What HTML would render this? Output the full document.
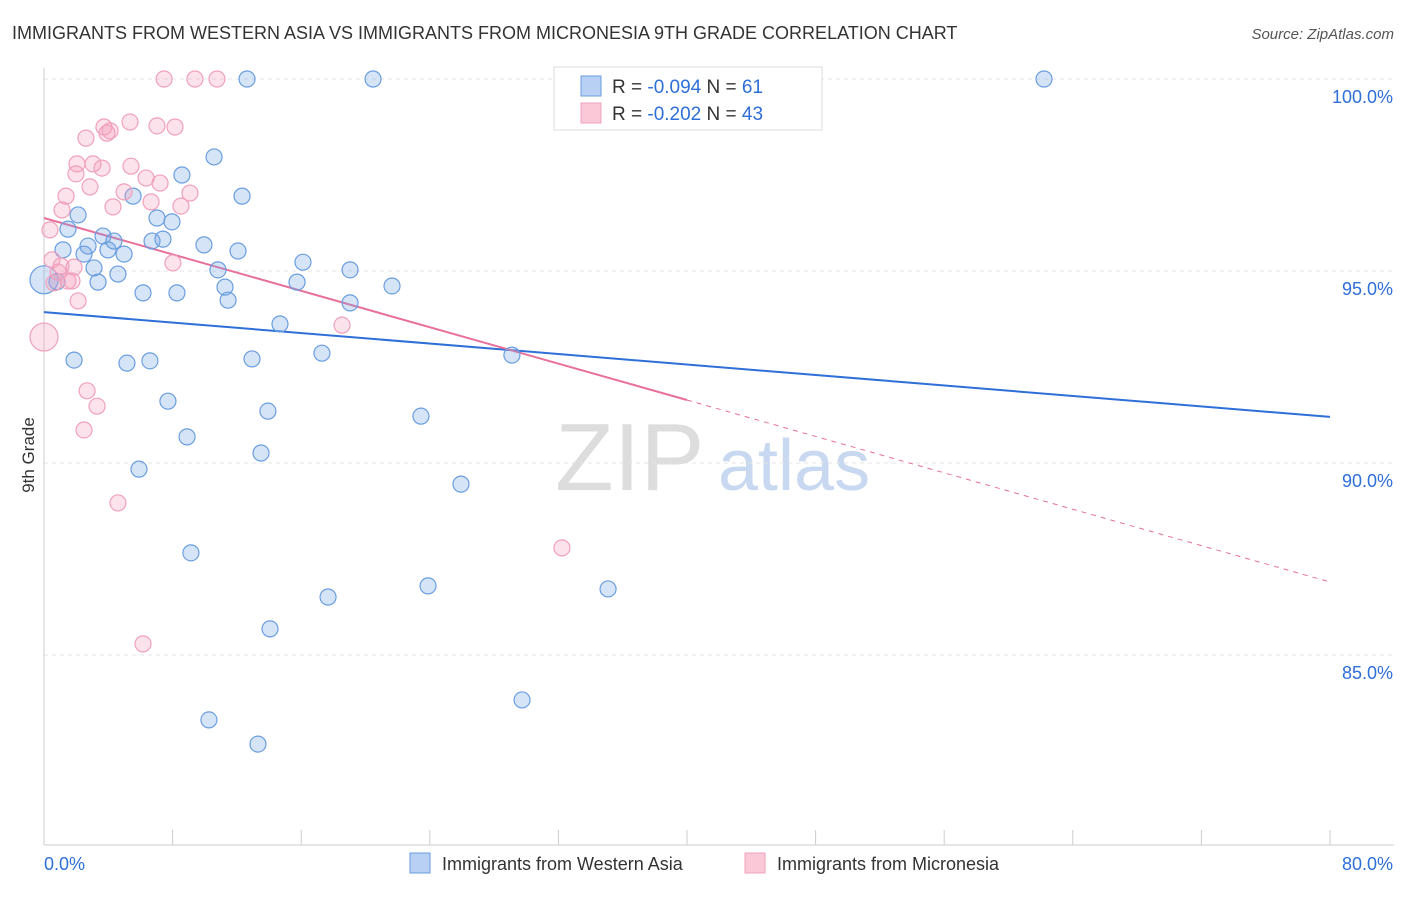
<!DOCTYPE html>
<html><head><meta charset="utf-8"><style>
body{margin:0;background:#fff;font-family:"Liberation Sans",sans-serif;}
svg text{font-family:"Liberation Sans",sans-serif;}
</style></head><body>
<svg id="chart" width="1406" height="892" xmlns="http://www.w3.org/2000/svg">
<text x="12" y="39" font-size="18" fill="#333">IMMIGRANTS FROM WESTERN ASIA VS IMMIGRANTS FROM MICRONESIA 9TH GRADE CORRELATION CHART</text>
<text x="1394" y="39" font-size="15" fill="#555" text-anchor="end" font-style="italic">Source: ZipAtlas.com</text>
<g>
<text x="555" y="490" font-size="96" fill="#ddd" font-family="Liberation Serif">ZIP</text>
<text x="718" y="490" font-size="72" fill="#c8d8f0">atlas</text>
</g>
<g id="grid"></g>
<g id="axes"></g>
<g id="lines"></g>
<g id="blue"></g>
<g id="pink"></g>
<text transform="translate(34,455) rotate(-90)" font-size="17" fill="#333" text-anchor="middle">9th Grade</text>
<g>
<rect x="554" y="67" width="268" height="63" fill="#fff" stroke="#ddd"/>
<rect x="581" y="76" width="20" height="20" fill="#b8d0f4" stroke="#6a9ee0"/>
<rect x="581" y="103" width="20" height="20" fill="#fbc8d8" stroke="#f0a0bc"/>
<text x="612" y="93" font-size="19" fill="#333">R = <tspan fill="#2e6fd8">-0.094</tspan>   N = <tspan fill="#2e6fd8"> 61</tspan></text>
<text x="612" y="120" font-size="19" fill="#333">R = <tspan fill="#2e6fd8">-0.202</tspan>   N = <tspan fill="#2e6fd8">43</tspan></text>
</g>
<g>
<rect x="410" y="853" width="20" height="20" fill="#b8d0f4" stroke="#6a9ee0"/>
<text x="442" y="870" font-size="18" fill="#333">Immigrants from Western Asia</text>
<rect x="745" y="853" width="20" height="20" fill="#fbc8d8" stroke="#f0a0bc"/>
<text x="777" y="870" font-size="18" fill="#333">Immigrants from Micronesia</text>
</g>
</svg>
<script>
const blueX=[0,0.81,1.18,1.49,2.12,1.87,2.49,2.74,3.11,3.36,3.67,3.98,4.35,4.60,4.98,5.16,5.54,5.91,6.16,6.59,6.72,7.03,7.40,7.71,7.96,8.27,8.58,8.90,9.14,9.95,10.26,10.58,10.82,11.26,11.45,12.07,12.32,12.63,12.94,13.31,13.50,13.93,14.06,14.68,15.74,16.11,17.29,17.67,19.04,19.04,20.47,21.65,23.45,23.89,25.94,29.11,29.74,35.09,44.04,62.21];
const blueY=[94.77,94.72,95.55,96.09,96.46,92.68,95.44,95.65,95.08,94.71,95.91,95.55,95.78,94.92,95.44,92.60,96.95,89.84,94.43,92.66,95.78,96.38,95.83,91.61,96.28,94.43,97.50,90.68,87.66,95.68,83.31,97.97,95.03,94.58,94.24,95.52,96.95,100,92.71,82.68,90.26,91.35,85.68,93.62,94.71,95.23,92.86,86.51,95.03,94.17,100,94.61,91.22,86.80,89.45,92.81,83.83,86.72,100,100];
const pinkX=[0,0.37,0.50,0.87,1.12,1.37,1.74,1.87,2.12,2.49,2.68,2.05,1.99,2.61,2.86,3.05,3.30,3.61,3.73,3.92,4.11,4.29,4.60,4.98,5.35,5.41,6.16,6.35,6.66,7.03,7.22,7.47,8.02,8.15,8.52,9.08,9.39,10.76,18.54,32.22,0.62,1.06,1.49];
const pinkY=[93.28,96.07,95.29,94.97,96.59,96.95,94.74,95.10,94.22,90.86,91.88,97.79,97.53,98.46,97.19,97.79,91.48,97.68,98.75,98.59,98.65,96.67,88.96,97.06,98.88,97.73,85.29,97.42,96.80,98.78,97.29,100,95.21,98.75,96.69,97.03,100,100,93.59,87.79,94.69,95.13,94.74];
const blueTrend=[93.93,91.20];
const pinkTrend=[96.38,91.64,86.9];
const yTicks=[100,95,90,85];
const yTickLabels=["100.0%","95.0%","90.0%","85.0%"];
const xTicks=[0,8,16,24,32,40,48,56,64,72,80];
const NS="http://www.w3.org/2000/svg";
const sx=v=>44+v*16.075, sy=v=>79+(100-v)*38.4;
function mk(tag,attrs,parent){const e=document.createElementNS(NS,tag);for(const k in attrs)e.setAttribute(k,attrs[k]);document.getElementById(parent).appendChild(e);return e;}
yTicks.forEach((t,i)=>{
 const l=mk('line',{x1:44,x2:1394,y1:sy(t),y2:sy(t),stroke:'#e4e4e4','stroke-dasharray':'4,4'},'grid');
 
 
 const tx=mk('text',{x:1393,y:sy(t)+24,'font-size':18,fill:'#2e6fd8','text-anchor':'end'},'axes');
 tx.textContent=yTickLabels[i];
 
 
});
const ax=mk('line',{x1:44,x2:44,y1:68,y2:845,stroke:'#ccc'},'axes');


const bx=mk('line',{x1:44,x2:1394,y1:845,y2:845,stroke:'#ccc'},'axes');


xTicks.forEach(t=>{
 const l=mk('line',{x1:sx(t),x2:sx(t),y1:830,y2:845,stroke:'#ccc'},'axes');
 
 
});
const x0=mk('text',{x:44,y:870,'font-size':18,fill:'#2e6fd8'},'axes');x0.textContent='0.0%';


const x1=mk('text',{x:1393,y:870,'font-size':18,fill:'#2e6fd8','text-anchor':'end'},'axes');x1.textContent='80.0%';


function pts(X,Y,g,fill,stroke,name){X.forEach((x,i)=>{
 const big=(i===0);
 const c=mk('circle',{cx:sx(x),cy:sy(Y[i]),r:big?14:8,fill:fill,stroke:stroke,'stroke-width':1.2},g);
 
 
});}
pts(blueX,blueY,'blue','rgba(120,165,230,0.3)','#6a9ee0','western-asia-point');
pts(pinkX,pinkY,'pink','rgba(245,160,190,0.3)','#f0a0bc','micronesia-point');
const bl=mk('line',{x1:sx(0),y1:sy(blueTrend[0]),x2:sx(80),y2:sy(blueTrend[1]),stroke:'#2e6fd8','stroke-width':2},'lines');


const pl=mk('line',{x1:sx(0),y1:sy(pinkTrend[0]),x2:sx(40),y2:sy(pinkTrend[1]),stroke:'#e8709a','stroke-width':2},'lines');


const pd=mk('line',{x1:sx(40),y1:sy(pinkTrend[1]),x2:sx(80),y2:sy(pinkTrend[2]),stroke:'#e8709a','stroke-width':1,'stroke-dasharray':'5,5'},'lines');


</script>
</body></html>
